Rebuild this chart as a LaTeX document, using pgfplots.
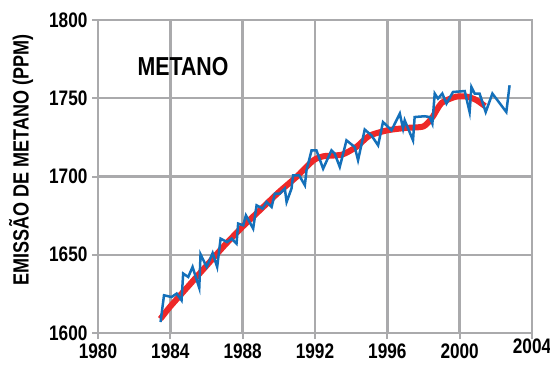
\documentclass[border=0pt]{standalone}
\usepackage{fontspec}
\setmainfont{Liberation Sans}[FakeStretch=0.82]
\usepackage{pgfplots}
\pgfplotsset{compat=1.18}
\definecolor{gridgray}{RGB}{170,170,172}
\definecolor{bluel}{RGB}{20,112,186}
\definecolor{redl}{RGB}{238,40,40}
\begin{document}
\begin{tikzpicture}
\begin{axis}[
  scale only axis, width=434pt, height=313pt,
  xmin=1980, xmax=2004, ymin=1600, ymax=1800,
  xtick={1980,1984,...,2004}, ytick={1600,1650,...,1800},
  xticklabels={1980,1984,1988,1992,1996,2000,\raisebox{5pt}[\height][\depth]{2004}},
  grid=major,
  grid style={gridgray, line width=2.4pt},
  axis line style={gridgray, line width=2.4pt},
  major tick style={gridgray, line width=2pt},
  major tick length=6pt,
  tick align=outside, xtick pos=left, ytick pos=left,
  /pgf/number format/1000 sep={},
  /pgf/number format/assume math mode=true,
  ticklabel style={font=\fontsize{21}{21}\selectfont\bfseries},
  xticklabel style={yshift=-1pt},
  yticklabel style={xshift=-1pt},
  ylabel={EMISSÃO DE METANO (PPM)},
  ylabel style={font=\fontsize{22}{22}\selectfont\bfseries, at={(axis description cs:-0.177,0.553)}, anchor=center, rotate=0},
  clip=false,
]
\addplot[redl, line width=6pt, line join=round, smooth, tension=0.4] coordinates {
(1983.45,1609) (1984,1617) (1985,1630) (1986,1643) (1987,1656) (1988,1668)
(1989,1679) (1990,1690) (1991,1700) (1991.6,1707) (1992,1711) (1992.5,1713)
(1993.5,1714) (1994.3,1719) (1995,1726) (1996,1729.5) (1997,1731) (1998,1732)
(1998.5,1738) (1999,1747) (1999.8,1751) (2000.4,1751) (2000.9,1749) (2001.4,1745)
};
\addplot[bluel, line width=2.5pt, line join=miter] coordinates {
(1983.46,1607.0) (1983.65,1624.1) (1984.07,1623.0) (1984.35,1625.2) (1984.62,1620.9)
(1984.71,1638.0) (1984.99,1635.8) (1985.23,1642.2) (1985.60,1628.8) (1985.67,1650.3)
(1986.01,1642.2) (1986.34,1651.1) (1986.59,1642.2) (1986.78,1660.3) (1987.14,1658.1)
(1987.39,1660.3) (1987.66,1657.1) (1987.75,1669.9) (1988.03,1668.8) (1988.18,1675.2)
(1988.58,1666.7) (1988.77,1681.6) (1989.10,1679.5) (1989.32,1683.7) (1989.60,1680.5)
(1989.78,1689.1) (1990.06,1689.1) (1990.33,1692.3) (1990.43,1683.7) (1990.70,1692.3)
(1990.79,1700.8) (1991.12,1700.8) (1991.44,1694.4) (1991.53,1704.0) (1991.81,1716.7)
(1992.08,1716.7) (1992.45,1705.0) (1992.91,1716.7) (1993.09,1714.6) (1993.37,1706.1)
(1993.74,1723.1) (1994.20,1718.8) (1994.38,1710.4) (1994.75,1730.0) (1995.12,1726.3)
(1995.49,1719.9) (1995.76,1734.8) (1996.23,1729.5) (1996.69,1740.2) (1996.87,1730.6)
(1996.96,1735.9) (1997.42,1723.1) (1997.51,1738.0) (1998.07,1738.5) (1998.34,1738.0)
(1998.49,1733.8) (1998.62,1753.0) (1998.80,1749.8) (1999.04,1753.0) (1999.27,1746.6)
(1999.63,1754.0) (2000.28,1754.6) (2000.55,1741.2) (2000.65,1757.2) (2000.83,1753.0)
(2001.10,1753.0) (2001.44,1741.2) (2001.81,1753.0) (2002.58,1741.2) (2002.76,1758.3)
};
\node[font=\fontsize{26}{26}\selectfont\bfseries, anchor=center] at (axis description cs:0.196,0.85) {METANO};
\end{axis}
\pgfresetboundingbox
\path[use as bounding box] ([shift={(-98pt,-34pt)}]current axis.south west) rectangle ([shift={(18pt,20pt)}]current axis.north east);
\end{tikzpicture}
\end{document}
